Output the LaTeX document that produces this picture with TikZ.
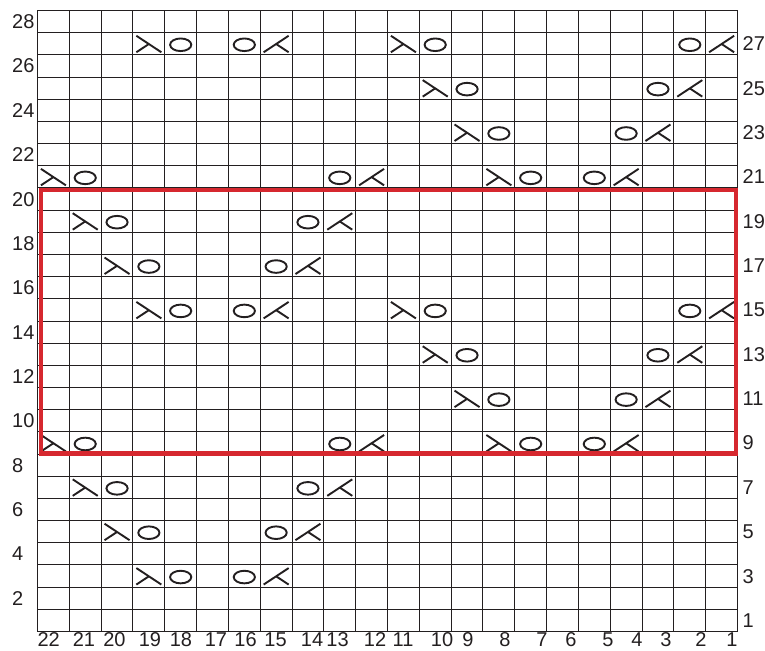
\documentclass[tikz,border=0pt]{standalone}
\usepackage{fontspec}
\setmainfont{Liberation Sans}
\definecolor{chartred}{RGB}{214,40,47}
\definecolor{ink}{RGB}{35,31,32}
\tikzset{
  gridline/.style={ink,line width=1.3pt},
  sym/.style={ink,line width=1.9pt,line cap=butt},
  frame/.style={chartred,line width=4.5pt},
  lbl/.style={inner sep=0pt,text=ink,font=\fontsize{20}{20}\selectfont},
}
\newcommand{\cw}{31.8182}
\newcommand{\rh}{22.1786}
% left-leaning decrease (lambda-like)
\newcommand{\symL}[2]{%
  \pgfmathsetmacro{\cx}{37.5+(22.5-#1)*\cw}%
  \pgfmathsetmacro{\cy}{631.5-(#2-0.5)*\rh}%
  \draw[sym] (\cx-12.5,\cy-8) -- (\cx+12.5,\cy+8.5);
  \draw[sym] (\cx-12.5,\cy+8.5) -- (\cx,\cy+0.25);}
% right-leaning decrease
\newcommand{\symK}[2]{%
  \pgfmathsetmacro{\cx}{37.5+(22.5-#1)*\cw}%
  \pgfmathsetmacro{\cy}{631.5-(#2-0.5)*\rh}%
  \draw[sym] (\cx+12.5,\cy-8) -- (\cx-12.5,\cy+8.5);
  \draw[sym] (\cx+12.5,\cy+8.5) -- (\cx,\cy+0.25);}
% yarn over
\newcommand{\symO}[2]{%
  \pgfmathsetmacro{\cx}{37.5+(22.5-#1)*\cw}%
  \pgfmathsetmacro{\cy}{631.5-(#2-0.5)*\rh}%
  \draw[sym] (\cx,\cy+1) ellipse [x radius=10.6, y radius=6.3];}
\begin{document}
\begin{tikzpicture}[x=1pt,y=-1pt]
\useasboundingbox (0,0) rectangle (765,650);
% grid (snapped to pixel centres)
\foreach \i in {0,...,22}{
  \pgfmathsetmacro{\gx}{floor(37.5+\i*\cw)+0.5}
  \draw[gridline] (\gx,10.5) -- (\gx,631.5);
}
\foreach \j in {0,...,28}{
  \pgfmathsetmacro{\gy}{floor(10.5+\j*\rh)+0.5}
  \draw[gridline] (37.5,\gy) -- (737.5,\gy);
}
% symbols
\foreach \r in {27,15}{
  \symL{19}{\r}\symO{18}{\r}\symO{16}{\r}\symK{15}{\r}
  \symL{11}{\r}\symO{10}{\r}\symO{2}{\r}\symK{1}{\r}
}
\foreach \r in {25,13}{
  \symL{10}{\r}\symO{9}{\r}\symO{3}{\r}\symK{2}{\r}
}
\foreach \r in {23,11}{
  \symL{9}{\r}\symO{8}{\r}\symO{4}{\r}\symK{3}{\r}
}
\foreach \r in {21,9}{
  \symL{22}{\r}\symO{21}{\r}\symO{13}{\r}\symK{12}{\r}
  \symL{8}{\r}\symO{7}{\r}\symO{5}{\r}\symK{4}{\r}
}
\foreach \r in {19,7}{
  \symL{21}{\r}\symO{20}{\r}\symO{14}{\r}\symK{13}{\r}
}
\foreach \r in {17,5}{
  \symL{20}{\r}\symO{19}{\r}\symO{15}{\r}\symK{14}{\r}
}
\symL{19}{3}\symO{18}{3}\symO{16}{3}\symK{15}{3}
% red frame
\draw[frame] (41,190) rectangle (736,453.5);
% left labels (even rows)
\foreach \r in {2,4,...,28}{
  \node[lbl,anchor=base west] (l\r) at (12,{631.5-(\r-0.5)*\rh+7}) {\r};
}
% right labels (odd rows)
\foreach \r in {1,3,...,27}{
  \node[lbl,anchor=base west] (r\r) at (742.5,{631.5-(\r-0.5)*\rh+7}) {\r};
}
% bottom labels
\foreach \c/\x in {22/48.7,21/84,20/114.5,19/150,18/181,17/216,16/245.5,15/275.5,14/312,13/337.5,12/375,11/403,10/442,9/468,8/505,7/542,6/571,5/608,4/637,3/666,2/701,1/732}{
  \node[lbl,anchor=base] (b\c) at (\x,646.5) {\c};
}
\end{tikzpicture}
\end{document}
